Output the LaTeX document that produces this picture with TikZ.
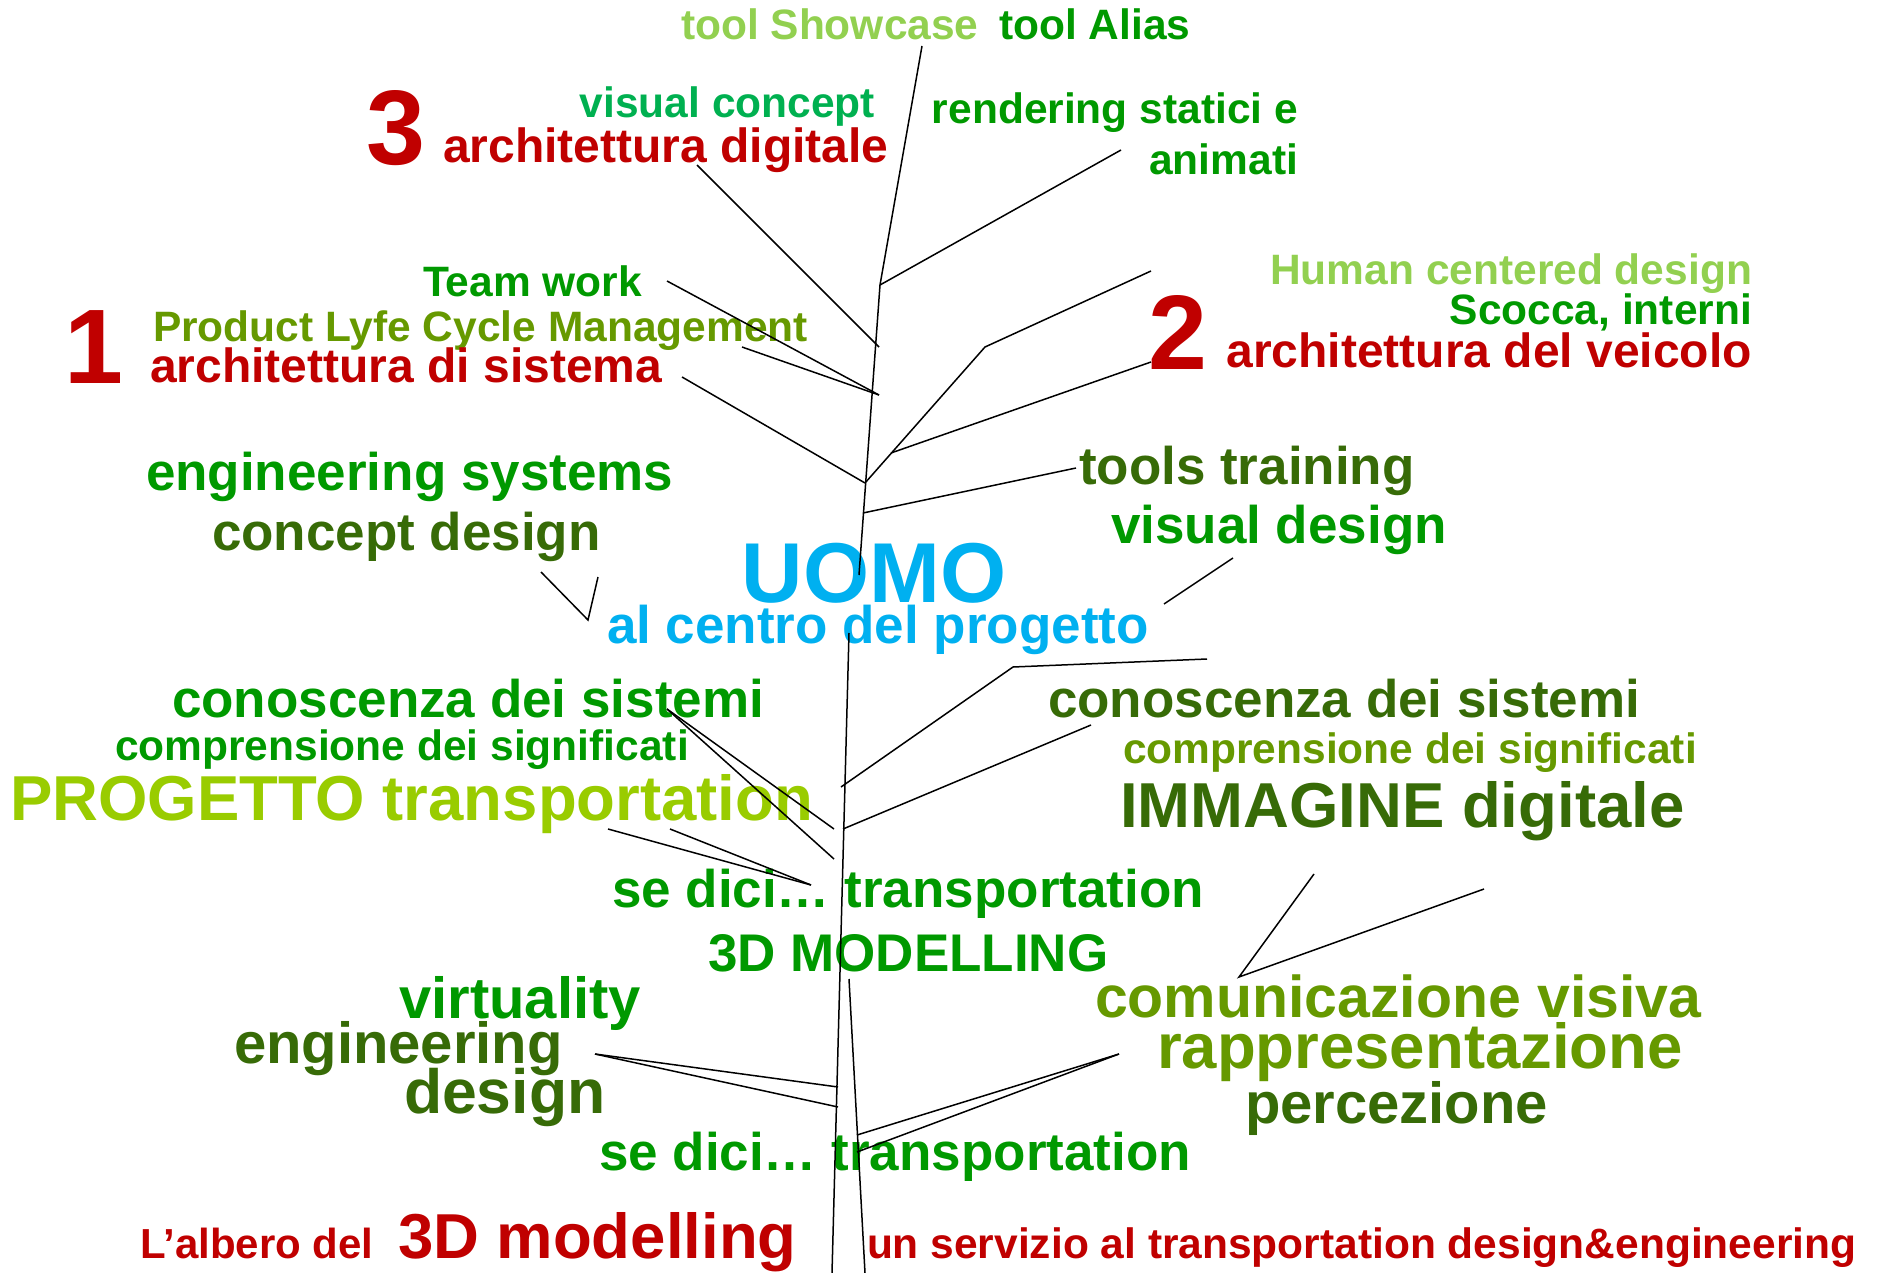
\documentclass[tikz,border=0pt]{standalone}
\usepackage{fontspec}
\setmainfont{Liberation Sans}
\usepackage{tikz}
\usetikzlibrary{calc}

\definecolor{rosso}{HTML}{C00000}
\definecolor{verde}{HTML}{009900}
\definecolor{verdechiaro}{HTML}{92D050}
\definecolor{verdeacqua}{HTML}{00B050}
\definecolor{oliva}{HTML}{669900}
\definecolor{scuro}{HTML}{376B07}
\definecolor{lime}{HTML}{99CC00}
\definecolor{ciano}{HTML}{00B0F0}

\begin{document}
\begin{tikzpicture}[x=1pt,y=-1pt]
	\tikzstyle{every node}=[inner sep=0pt, outer sep=0pt]
	\tikzstyle{fa}=[font=\bfseries\fontsize{42.5}{51}\selectfont]
	\tikzstyle{fb}=[font=\bfseries\fontsize{48}{56}\selectfont]
	\tikzstyle{fc}=[font=\bfseries\fontsize{53}{62}\selectfont]
	\tikzstyle{fd}=[font=\bfseries\fontsize{58}{68}\selectfont]
	\tikzstyle{fe}=[font=\bfseries\fontsize{63.5}{74}\selectfont]
	\tikzstyle{num}=[font=\bfseries\fontsize{106}{120}\selectfont, text=rosso]
	\tikzstyle{ramo}=[black, line width=1.5pt]
	\useasboundingbox (0,0) rectangle (1883,1273);

	% cima
	\node[fa, text=verdechiaro, anchor=base west] (showcase) at (681,40) {tool Showcase};
	\node[fa, text=verde, anchor=base west] (alias) at (999,40) {tool Alias};
	\node[num, anchor=base west] (tre) at (366,165) {3};
	\node[fa, text=verdeacqua, anchor=base east] (vconcept) at (875,118) {visual concept};
	\node[fb, text=rosso, anchor=base west] (archdig) at (443,163) {architettura digitale};
	\node[fa, text=verde, anchor=base east] (rendering) at (1298,124) {rendering statici e};
	\node[fa, text=verde, anchor=base east] (animati) at (1298,175) {animati};

	% livello 1 e 2
	\node[fa, text=verde, anchor=base west] (team) at (423,297) {Team work};
	\node[num, anchor=base west] (uno) at (64,384) {1};
	\node[fa, text=oliva, anchor=base west] (plm) at (153,342) {Product Lyfe Cycle Management};
	\node[fb, text=rosso, anchor=base west] (archsis) at (150,383) {architettura di sistema};
	\node[fa, text=verdechiaro, anchor=base east] (human) at (1752,285) {Human centered design};
	\node[fa, text=verde, anchor=base east] (scocca) at (1752,325) {Scocca, interni};
	\node[num, anchor=base west] (due) at (1148,370) {2};
	\node[fb, text=rosso, anchor=base east] (archveic) at (1752,368) {architettura del veicolo};

	% centro
	\node[fc, text=verde, anchor=base west] (engsys) at (146,490) {engineering systems};
	\node[fc, text=scuro, anchor=base west] (concept) at (212,550) {concept design};
	\node[fc, text=scuro, anchor=base west] (training) at (1079,484) {tools training};
	\node[fc, text=verde, anchor=base west] (vdesign) at (1111,543) {visual design};
	\node[font=\bfseries\fontsize{85}{96}\selectfont, text=ciano, anchor=base] (uomo) at (874,602) {UOMO};
	\node[fc, text=ciano, anchor=base west] (centro) at (607,643) {al centro del progetto};

	% rami bassi
	\node[fc, text=verde, anchor=base west] (conoscL) at (172,717) {conoscenza dei sistemi};
	\node[fa, text=verde, anchor=base west] (comprL) at (115,760) {comprensione dei significati};
	\node[fe, text=lime, anchor=base west] (progetto) at (10,820) {PROGETTO transportation};
	\node[fc, text=scuro, anchor=base west] (conoscR) at (1048,717) {conoscenza dei sistemi};
	\node[fa, text=oliva, anchor=base west] (comprR) at (1123,763) {comprensione dei significati};
	\node[fe, text=scuro, anchor=base west] (immagine) at (1120,827) {IMMAGINE digitale};
	\node[fc, text=verde, anchor=base west] (sedici) at (612,907) {se dici… transportation};
	\node[fc, text=verde, anchor=base west] (modelling) at (708,971) {3D MODELLING};
	\node[fd, text=verde, anchor=base east] (virtual) at (641,1018) {virtuality};
	\node[fd, text=scuro, anchor=base west] (engin) at (234,1063) {engineering};
	\node[font=\bfseries\fontsize{62.5}{72}\selectfont, text=scuro, anchor=base west] (design) at (404,1113) {design};
	\node[font=\bfseries\fontsize{59}{68}\selectfont, text=oliva, anchor=base west] (comvis) at (1095,1017) {comunicazione visiva};
	\node[fe, text=oliva, anchor=base west] (rappr) at (1157,1068) {rappresentazione};
	\node[fd, text=scuro, anchor=base west] (percez) at (1245,1123) {percezione};
	\node[fc, text=verde, anchor=base west] (sedici2) at (599,1170) {se dici… transportation};

	% piede
	\node[font=\bfseries\fontsize{42}{50}\selectfont, text=rosso, anchor=base west] (albero) at (140,1258) {L’albero del};
	\node[fe, text=rosso, anchor=base west] (modell) at (398,1258) {3D modelling};
	\node[fa, text=rosso, anchor=base west] (servizio) at (867,1258) {un servizio al transportation design\&engineering};

	% tronco
	\coordinate (t0) at (922,46);
	\coordinate (t1) at (880,285);
	\coordinate (t2) at (859,575);
	\coordinate (t3) at (849,633);
	\coordinate (t4) at (832,1273);
	\coordinate (t5) at (849,979);
	\coordinate (t6) at (865,1273);
	\draw[ramo] (t0) -- (t1) -- (t2);
	\draw[ramo] (t3) -- (t4);
	\draw[ramo] (t5) -- (t6);

	% rami
	\coordinate (r1) at (1121,150);
	\coordinate (r2) at (697,165);
	\coordinate (r3) at (879,347);
	\coordinate (r4) at (667,281);
	\coordinate (r5) at (879,395);
	\coordinate (r6) at (742,347);
	\coordinate (r7) at (682,377);
	\coordinate (r8) at (865,483);
	\coordinate (r9) at (1151,271);
	\coordinate (r10) at (985,347);
	\coordinate (r11) at (1151,362);
	\coordinate (r12) at (891,453);
	\coordinate (r13) at (863,513);
	\coordinate (r14) at (1076,468);
	\coordinate (r15) at (541,572);
	\coordinate (r16) at (588,620);
	\coordinate (r17) at (598,577);
	\coordinate (r18) at (1233,558);
	\coordinate (r19) at (1164,604);
	\coordinate (r20) at (1207,659);
	\coordinate (r21) at (1013,667);
	\coordinate (r22) at (841,787);
	\coordinate (r23) at (1091,725);
	\coordinate (r24) at (843,829);
	\coordinate (r25) at (667,709);
	\coordinate (r26) at (834,829);
	\coordinate (r27) at (834,859);
	\coordinate (r28) at (608,829);
	\coordinate (r29) at (811,885);
	\coordinate (r30) at (670,829);
	\coordinate (r31) at (595,1054);
	\coordinate (r32) at (838,1087);
	\coordinate (r33) at (838,1107);
	\coordinate (r34) at (1119,1054);
	\coordinate (r35) at (857,1135);
	\coordinate (r36) at (857,1152);
	\coordinate (r37) at (1314,874);
	\coordinate (r38) at (1239,977);
	\coordinate (r39) at (1484,889);

	\draw[ramo] (t1) -- (r1);
	\draw[ramo] (r2) -- (r3);
	\draw[ramo] (r4) -- (r5);
	\draw[ramo] (r6) -- (r5);
	\draw[ramo] (r7) -- (r8);
	\draw[ramo] (r9) -- (r10) -- (r8);
	\draw[ramo] (r11) -- (r12);
	\draw[ramo] (r13) -- (r14);
	\draw[ramo] (r15) -- (r16) -- (r17);
	\draw[ramo] (r18) -- (r19);
	\draw[ramo] (r20) -- (r21) -- (r22);
	\draw[ramo] (r23) -- (r24);
	\draw[ramo] (r25) -- (r26);
	\draw[ramo] (r25) -- (r27);
	\draw[ramo] (r28) -- (r29);
	\draw[ramo] (r30) -- (r29);
	\draw[ramo] (r31) -- (r32);
	\draw[ramo] (r31) -- (r33);
	\draw[ramo] (r34) -- (r35);
	\draw[ramo] (r34) -- (r36);
	\draw[ramo] (r37) -- (r38) -- (r39);
\end{tikzpicture}
\end{document}
